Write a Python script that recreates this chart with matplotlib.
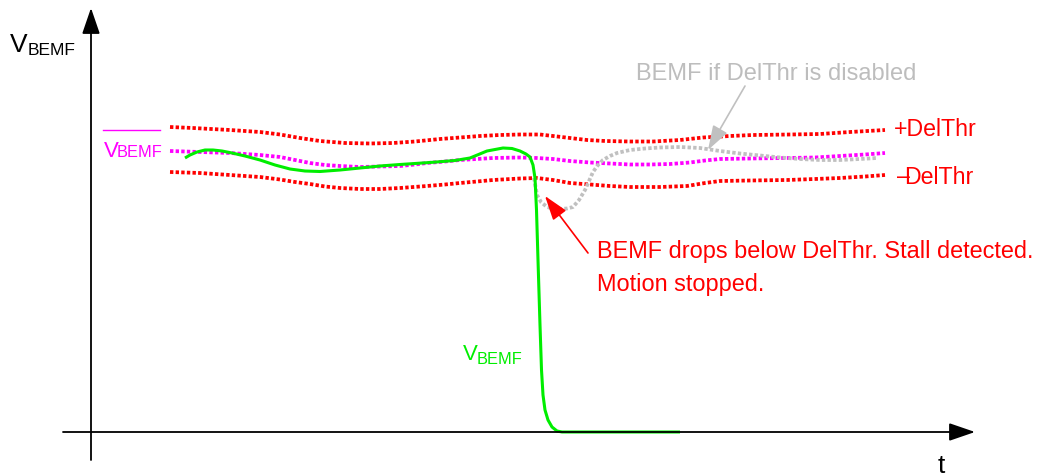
import matplotlib
matplotlib.use("Agg")
from matplotlib import pyplot as plt

plt.rcParams['font.family'] = ['Liberation Sans', 'DejaVu Sans']

# Curves, in picture pixels (y grows downwards).
upper_x = [170, 193, 230, 260, 280, 300, 320, 345, 370, 393, 415, 440, 460, 480,
           500, 520, 540, 553, 570, 587, 605, 630, 653, 680, 703, 730, 753, 790,
           820, 850, 885]
upper_y = [127, 128, 130, 132, 134.5, 138, 141, 143, 143.5, 143, 141.5, 139, 137.5,
           136, 135, 134.5, 134.5, 136, 138, 140, 141, 141.5, 141.5, 140, 137.5, 136,
           135, 134.5, 134, 132, 130]

mean_x = [170, 200, 230, 260, 280, 295, 310, 325, 340, 360, 380, 400, 415, 427, 445,
          460, 477, 493, 520, 537, 553, 570, 590, 610, 630, 650, 670, 690, 705, 720,
          750, 787, 815, 840, 865, 885]
mean_y = [151, 152, 153, 155, 157, 160, 163, 165, 166, 167, 166.5, 166, 164.5, 163,
          161.5, 160, 159, 158, 157.5, 158, 159, 161, 162.5, 163.5, 164.5, 164.5, 164,
          162.5, 160.5, 159, 158.5, 158, 157.5, 156, 154.5, 153]

lower_x = [170, 200, 230, 260, 280, 295, 310, 325, 340, 360, 380, 400, 427, 445, 460,
           477, 493, 520, 537, 553, 570, 590, 610, 630, 660, 687, 705, 720, 750, 787,
           815, 840, 865, 885]
lower_y = [172, 173, 175, 177, 179.5, 182, 184, 186.5, 188, 189, 189, 188, 186, 184.5,
           183, 181.5, 180, 178.5, 178, 180, 183, 184.5, 186, 187, 187, 186, 183,
           181, 180.5, 180, 179, 178, 176.5, 175]

bemf_x = [185, 190, 197, 205, 213, 222, 232, 245, 260, 275, 290, 305, 320, 340, 360,
          380, 400, 430, 455, 470, 487, 495, 503, 512, 520, 526, 530, 533, 535, 536.5,
          538, 540, 541.5, 543, 545, 548, 552, 557, 562, 680]
bemf_y = [158, 155, 152, 150, 150, 151, 153, 156, 160, 165, 169, 171, 171.5, 170, 168,
          166, 164.5, 162.5, 160.5, 158, 151, 149.5, 148, 148.5, 151, 154, 157, 165,
          178, 210, 260, 325, 370, 395, 410, 420, 427, 431, 432, 432]

nodel_x = [534, 537, 541, 547, 553, 560, 567, 573, 579, 585, 589, 593, 598, 603, 610,
           617, 630, 645, 660, 680, 700, 720, 740, 760, 780, 800, 820, 840, 860, 877]
nodel_y = [178, 195, 202, 207, 208.5, 209, 208.5, 207, 200, 190, 181, 172, 165, 160,
           156, 153, 150, 148.5, 147.5, 147, 148, 151, 153.5, 155.5, 157.5, 159, 160,
           160, 159, 158]

RED = '#ff0000'
MAGENTA = '#ff00ff'
GREEN = '#00ee00'
GRAY = '#c0c0c0'

fig = plt.figure(figsize=(10.38, 4.76), dpi=100)
ax = fig.add_axes([0, 0, 1, 1])
ax.set_xlim(0, 1038)
ax.set_ylim(476, 0)
ax.axis('off')

# axes with arrow heads
axis_style = dict(arrowstyle='-|>,head_length=1.6,head_width=0.55', color='black',
                  lw=1.3, mutation_scale=10, shrinkA=0, shrinkB=0)
ax.annotate('', xy=(91, 8), xytext=(91, 460), arrowprops=axis_style)
ax.annotate('', xy=(975, 432), xytext=(63, 432), arrowprops=axis_style)

dots = (0, (0.9, 0.6))
ax.plot(upper_x, upper_y, color=RED, lw=2.7, ls=dots)
ax.plot(lower_x, lower_y, color=RED, lw=2.7, ls=dots)
ax.plot(mean_x, mean_y, color=MAGENTA, lw=2.7, ls=dots)
ax.plot(nodel_x, nodel_y, color=GRAY, lw=2.7, ls=dots)
ax.plot(bemf_x, bemf_y, color=GREEN, lw=2.2, solid_capstyle='butt',
        solid_joinstyle='round')

# axis labels
ax.text(10, 52, 'V', fontsize=19, color='black', va='baseline')
ax.text(28, 55, 'BEMF', fontsize=12.5, color='black', va='baseline')
ax.text(938, 473, 't', fontsize=19, color='black', va='baseline')

# mean BEMF label with overline
ax.plot([103, 160], [130, 130], color=MAGENTA, lw=1.0)
ax.text(104, 157, 'V', fontsize=16, color=MAGENTA, va='baseline')
ax.text(117, 157, 'BEMF', fontsize=11.8, color=MAGENTA, va='baseline')

# green label
ax.text(463, 360, 'V', fontsize=16, color=GREEN, va='baseline')
ax.text(477, 364, 'BEMF', fontsize=11.8, color=GREEN, va='baseline')

# threshold labels
ax.text(894, 130, '+DelThr', fontsize=16.7, color=RED, va='center')
ax.text(897, 177, '\u2013', fontsize=16.7, color=RED, va='center')
ax.text(904, 177, 'DelThr', fontsize=16.7, color=RED, va='center')

# annotations
ann_style = dict(arrowstyle='-|>,head_length=1.5,head_width=0.5', lw=1.2,
                 mutation_scale=10, shrinkA=0, shrinkB=0)
ax.annotate('', xy=(545, 196), xytext=(588, 253),
            arrowprops=dict(color=RED, **ann_style))
ax.text(597, 268, 'BEMF drops below DelThr. Stall detected.\nMotion stopped.',
        fontsize=16.9, color=RED, va='center', ha='left', linespacing=1.53)

ax.annotate('', xy=(708, 150), xytext=(745, 86),
            arrowprops=dict(color=GRAY, **ann_style))
ax.text(636, 74, 'BEMF if DelThr is disabled', fontsize=17, color='#bdbdbd',
        va='center', ha='left')

fig.savefig('out.png', dpi=100)
